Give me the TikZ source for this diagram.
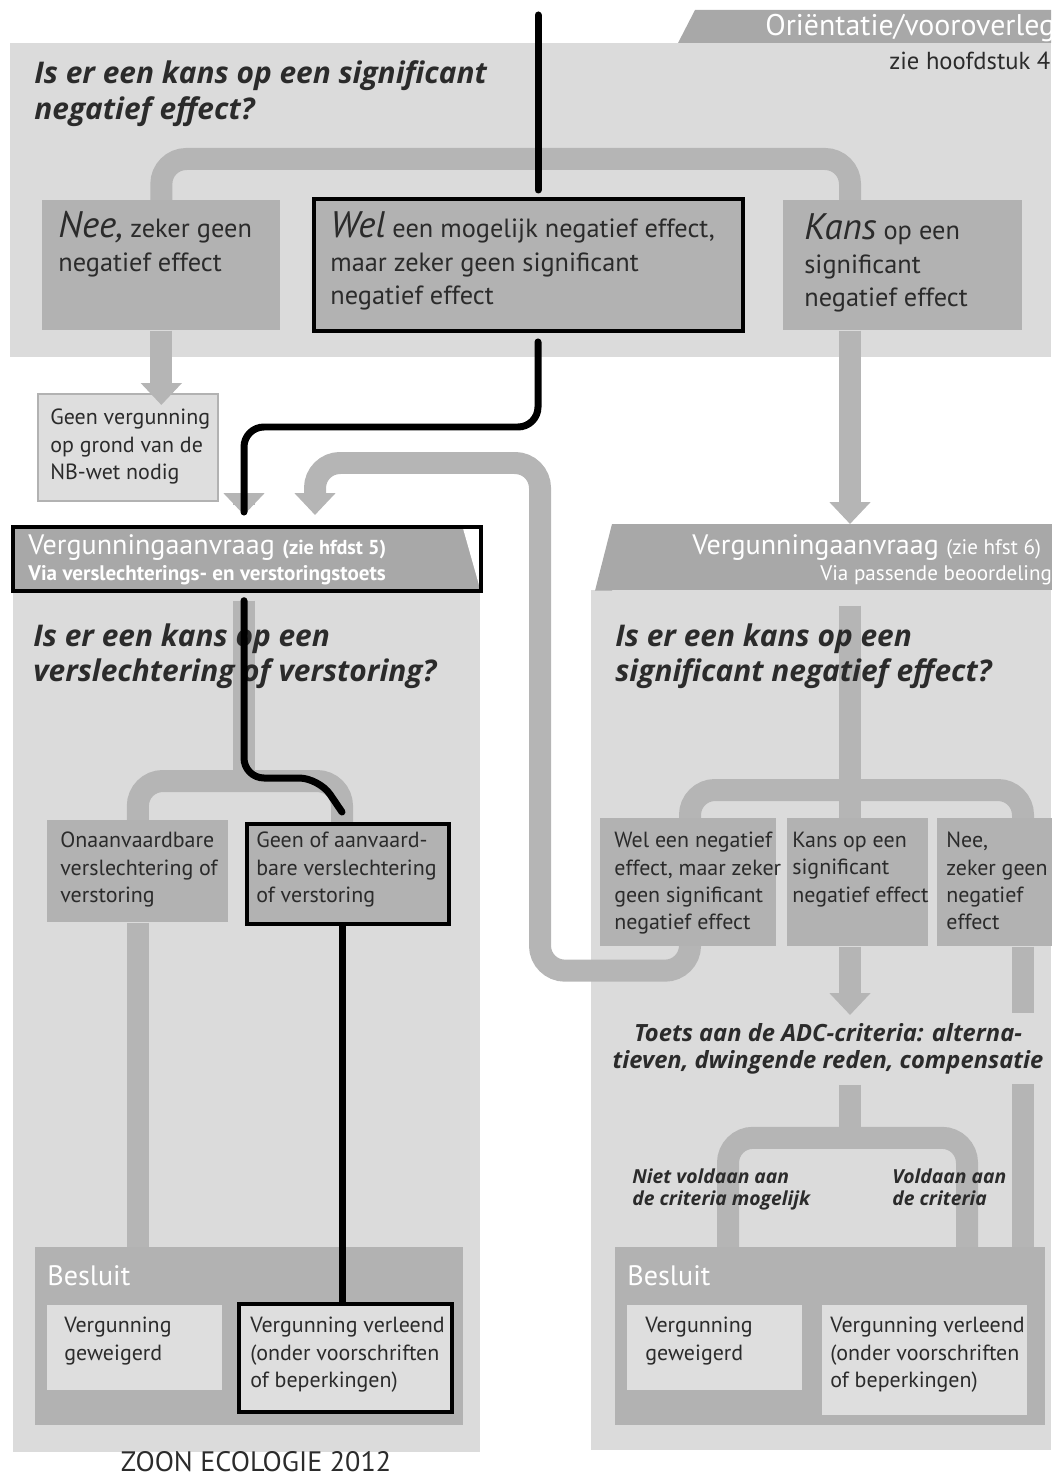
\documentclass[tikz,border=0pt]{standalone}
\usepackage{fontspec}
\setmainfont{PT Sans}
\newfontfamily\askfont{Open Sans}
\usetikzlibrary{arrows.meta}
\pgfdeclarelayer{background}
\pgfsetlayers{background,main}
\definecolor{panelgray}{gray}{0.86}
\definecolor{boxgray}{gray}{0.70}
\definecolor{pipegray}{gray}{0.71}
\definecolor{bargray}{gray}{0.66}
\definecolor{palebox}{gray}{0.87}
\definecolor{ink}{gray}{0.17}
\tikzstyle{every node}=[inner sep=0pt, text=ink]
\tikzstyle{box}=[anchor=north west, fill=boxgray]
\tikzstyle{palebox}=[anchor=north west, fill=palebox]
\tikzstyle{framed}=[draw=black, line width=0.8mm]
\tikzstyle{pipe}=[draw=pipegray, line width=4.4mm, rounded corners=5mm]
\tikzstyle{pipehead}=[-{Triangle[width=8mm,length=4.4mm]}]
\tikzstyle{route}=[draw=black, line width=1.4mm, line cap=round, rounded corners=4mm]
\tikzstyle{question}=[anchor=north west, align=left, font=\askfont\fontsize{17}{20.4}\selectfont\bfseries\itshape]
\tikzstyle{bigtext}=[anchor=north west, align=left, font=\fontsize{15}{19.3}\selectfont]
\tikzstyle{smalltext}=[anchor=north west, align=left, font=\fontsize{12.5}{15.5}\selectfont]
\tikzstyle{bartext}=[anchor=north west, text=white, font=\fontsize{16}{18}\selectfont]
\tikzstyle{barsub}=[anchor=north west, text=white, font=\fontsize{12}{14}\selectfont]
\tikzstyle{criteria}=[anchor=north west, align=left, font=\askfont\fontsize{11}{12.6}\selectfont\bfseries\itshape]
\newcommand{\leadword}[1]{{\fontsize{21}{19.3}\selectfont\itshape #1}}

\begin{document}
\begin{tikzpicture}[x=0.02cm, y=-0.02cm]
	\useasboundingbox (0,0) rectangle (1051,1476);

	\coordinate (top) at (538,15);
	\coordinate (kx) at (850,0);
	\coordinate (lx) at (244,0);
	\coordinate (gx) at (342,0);
	\coordinate (wx) at (690,0);
	\coordinate (nx) at (1023,0);
	\coordinate (nvx) at (728,0);
	\coordinate (vx) at (967,0);
	\coordinate (cross) at (244,427);
	\coordinate (lfork) at (244,781);
	\coordinate (loopx) at (540,0);
	\coordinate (backx) at (315,0);

	\node[box, minimum width=4.76cm, minimum height=2.6cm] (nee) at (42,200) {};
	\node[box, framed, minimum width=8.58cm, minimum height=2.64cm] (wel) at (312,197) {};
	\node[box, minimum width=4.78cm, minimum height=2.6cm] (kans) at (783,200) {};
	\node[palebox, draw=boxgray, line width=0.4mm, minimum width=3.6cm, minimum height=2.14cm] (geenvg) at (37,393) {};

	\node[box, fill=bargray, minimum width=9.34cm, minimum height=1.26cm] (vlbar) at (13,527) {};
	\fill[white] ([shift={(-18,0)}]vlbar.north east) -- (vlbar.north east) -- (vlbar.south east) -- cycle;
	\draw[framed] (vlbar.north west) rectangle (vlbar.south east);
	\node[box, fill=bargray, minimum width=9.2cm, minimum height=1.32cm] (vrbar) at (612,524) {};
	\fill[bargray] (vrbar.north west) -- (vrbar.south west) -- ++(-17,0) -- cycle;

	\node[box, minimum width=3.62cm, minimum height=2.04cm] (onaan) at (47,820) {};
	\node[box, framed, minimum width=4.04cm, minimum height=2cm] (geenof) at (245,822) {};
	\node[box, minimum width=3.52cm, minimum height=2.56cm] (welr) at (600,818) {};
	\node[box, minimum width=2.82cm, minimum height=2.56cm] (kansr) at (787,818) {};
	\node[box, minimum width=2.6cm, minimum height=2.56cm] (neer) at (937,818) {};

	\node[box, minimum width=8.56cm, minimum height=3.56cm] (besl) at (35,1247) {};
	\node[box, minimum width=8.6cm, minimum height=3.56cm] (besr) at (615,1247) {};
	\node[palebox, minimum width=3.5cm, minimum height=1.7cm] (weigl) at (47,1305) {};
	\node[palebox, framed, minimum width=4.26cm, minimum height=2.16cm] (verll) at (237,1302) {};
	\node[palebox, minimum width=3.5cm, minimum height=1.7cm] (weigr) at (627,1305) {};
	\node[palebox, minimum width=4.1cm, minimum height=2.2cm] (verlr) at (822,1305) {};

	\node[criteria, align=center, anchor=north, fill=panelgray, inner ysep=2mm, font=\askfont\fontsize{13.5}{15.6}\selectfont\bfseries\itshape] (adc) at (828,1013) {Toets aan de ADC-criteria: alterna-\\tieven, dwingende reden, compensatie};

	\begin{pgfonlayer}{background}
		\fill[panelgray] (10,43) rectangle (1051,357);
		\fill[bargray] (678,43) -- (695,10) -- (1051,10) -- (1051,43) -- cycle;
		\fill[panelgray] (13,590) rectangle (480,1452);
		\fill[panelgray] (591,590) rectangle (1051,1450);
		\draw[pipe] (nee.north) -- ++(0,-41) -| (kans.north -| kx);
		\draw[pipe, pipehead] ([shift={(0,-22)}]cross |- vlbar.north) -- ([shift={(0,-12)}]cross |- vlbar.north);
		\draw[pipe, pipehead] (welr.south -| wx) -- ++(0,24) -| (loopx |- 0,463) -| ([shift={(0,-12)}]backx |- vlbar.north);
		\draw[pipe] ([shift={(0,10)}]vlbar.south -| lx) -- (lfork);
		\draw[pipe] (onaan.north) |- (lfork) -| (geenof.north -| gx);
		\draw[pipe] (onaan.south) -- (besl.north -| onaan.south);
		\draw[pipe] ([shift={(0,15)}]vrbar.south -| kx) -- (kansr.north -| kx);
		\draw[pipe] (welr.north -| wx) -- ++(0,-28) -| (neer.north -| nx);
		\draw[pipe] (neer.south -| nx) -- (besr.north -| nx);
		\draw[pipe] (adc.south -| kx) -- ++(0,53) coordinate (adcfork);
		\draw[pipe] (besr.north -| nvx) |- (adcfork) -| (besr.north -| vx);
	\end{pgfonlayer}

	\draw[pipe, pipehead, shorten >=-2.4mm] (nee.south) -- (nee.south |- geenvg.north);
	\draw[pipe, pipehead] (kans.south -| kx) -- (vrbar.north -| kx);
	\draw[pipe, pipehead] (kansr.south -| kx) -- ([shift={(0,2)}]adc.north -| kx);

	\node[anchor=base west, text=white, font=\fontsize{17}{20}\selectfont] (orient) at (765,36) {Oriëntatie/vooroverleg};
	\node[anchor=base west, font=\fontsize{14}{16}\selectfont] (hfst4) at (889,70) {zie hoofdstuk 4};
	\node[question] (q-top) at (34,60) {Is er een kans op een significant\\negatief effect?};
	\node[bigtext] (nee-t) at (58,211) {\leadword{Nee,} zeker geen\\negatief effect};
	\node[bigtext] (wel-t) at (330,211) {\leadword{Wel} een mogelijk negatief effect,\\maar zeker geen significant\\negatief effect};
	\node[bigtext] (kans-t) at (804,213) {\leadword{Kans} op een\\significant\\negatief effect};
	\node[smalltext] (geenvg-t) at (50,409) {Geen vergunning\\op grond van de\\NB-wet nodig};

	\node[bartext] (vl-title) at (28,534) {Vergunningaanvraag {\fontsize{11.5}{13}\selectfont\bfseries (zie hfdst 5)}};
	\node[barsub, font=\fontsize{12}{14}\selectfont\bfseries] (vl-sub) at (28,565) {Via verslechterings- en verstoringstoets};
	\node[question] (q-left) at (33,623) {Is er een kans op een\\verslechtering of verstoring?};
	\node[smalltext] (onaan-t) at (60,832) {Onaanvaardbare\\verslechtering of\\verstoring};
	\node[smalltext] (geenof-t) at (256,832) {Geen of aanvaard-\\bare verslechtering\\of verstoring};
	\node[bartext] (besl-t) at (47,1265) {Besluit};
	\node[smalltext] (weigl-t) at (64,1317) {Vergunning\\geweigerd};
	\node[smalltext] (verll-t) at (250,1317) {Vergunning verleend\\(onder voorschriften\\of beperkingen)};
	\node[anchor=base, font=\fontsize{16}{18}\selectfont] (footer) at (256,1471) {ZOON ECOLOGIE 2012};

	\node[bartext] (vr-title) at (692,534) {Vergunningaanvraag {\fontsize{12}{13}\selectfont (zie hfst 6)}};
	\node[barsub] (vr-sub) at (820,565) {Via passende beoordeling};
	\node[question] (q-right) at (615,623) {Is er een kans op een\\significant negatief effect?};
	\node[smalltext] (welr-t) at (614,832) {Wel een negatief\\effect, maar zeker\\geen significant\\negatief effect};
	\node[smalltext] (kansr-t) at (792,832) {Kans op een\\significant\\negatief effect};
	\node[smalltext] (neer-t) at (946,832) {Nee,\\zeker geen\\negatief\\effect};
	\node[criteria] (niet-t) at (632,1168) {Niet voldaan aan\\de criteria mogelijk};
	\node[criteria] (vold-t) at (892,1168) {Voldaan aan\\de criteria};
	\node[bartext] (besr-t) at (627,1265) {Besluit};
	\node[smalltext] (weigr-t) at (645,1317) {Vergunning\\geweigerd};
	\node[smalltext] (verlr-t) at (830,1317) {Vergunning verleend\\(onder voorschriften\\of beperkingen)};

	\draw[route, shorten >=1.4mm] (top) -- (top |- wel.north);
	\draw[route, shorten <=1.8mm, shorten >=3mm] (wel.south -| top) |- (cross) -- (vlbar.north -| cross);
	\draw[route, shorten <=2mm] (vlbar.south -| lfork) -- ([shift={(0,-3)}]lfork) -- ++(75,0) -- ([shift={(0,-10)}]geenof.north -| gx);
	\draw[route] (geenof.south -| gx) -- (verll.north -| gx);
\end{tikzpicture}
\end{document}
